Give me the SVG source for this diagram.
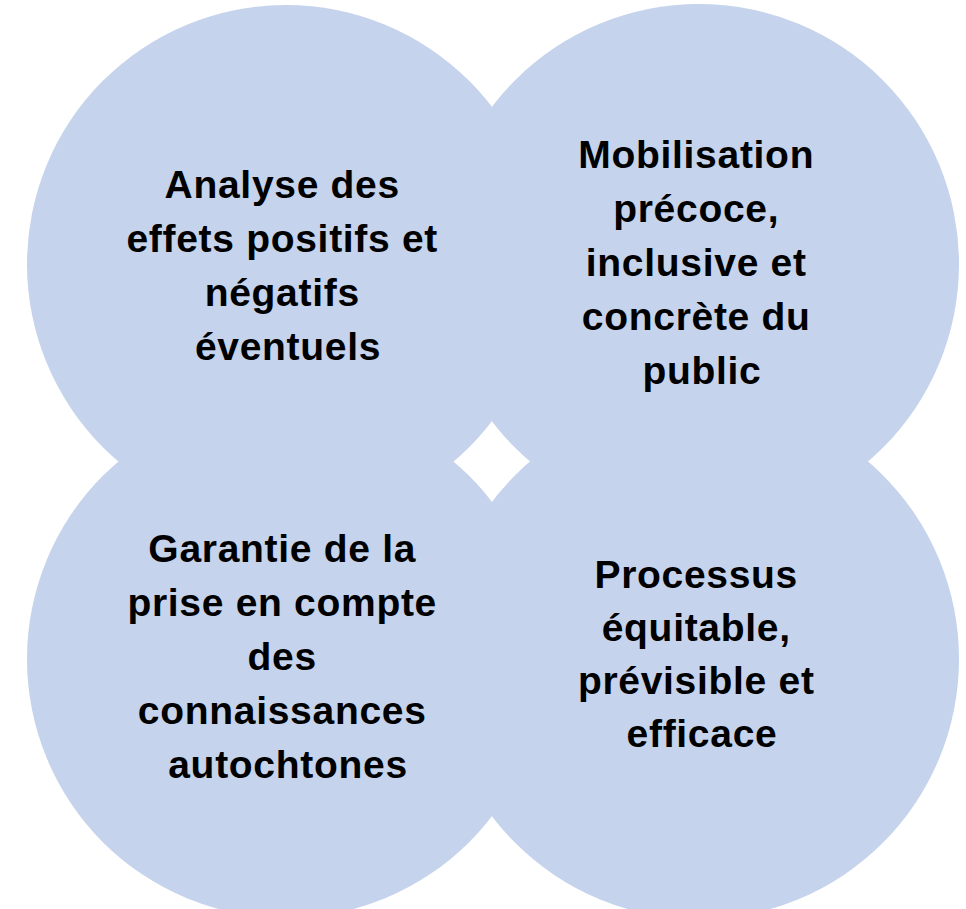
<svg xmlns="http://www.w3.org/2000/svg" width="966" height="909" viewBox="0 0 966 909">
<style>
.bg{fill:#ffffff}
.c{fill:#C5D3EC;stroke:none}
.t{font-family:"Liberation Sans",Arial,sans-serif;font-weight:bold;font-size:39px;fill:#000000;text-anchor:middle;letter-spacing:0.7px}
</style>
<rect class="bg" x="0" y="0" width="966" height="909"/>
<g id="connectors"></g>
<g id="node-mobilisation">
<circle class="c" cx="699" cy="264" r="260"/>
<text class="t">
<tspan x="702" y="168">Mobilisation</tspan>
<tspan x="702" y="222">précoce,</tspan>
<tspan x="702" y="276">inclusive et</tspan>
<tspan x="702" y="330">concrète du</tspan>
<tspan x="702" y="384">public</tspan>
</text>
</g>
<g id="node-processus">
<circle class="c" cx="699" cy="659" r="260"/>
<text class="t">
<tspan x="702" y="588">Processus</tspan>
<tspan x="702" y="641">équitable,</tspan>
<tspan x="702" y="694">prévisible et</tspan>
<tspan x="702" y="747">efficace</tspan>
</text>
</g>
<g id="node-garantie">
<circle class="c" cx="286" cy="659" r="259"/>
<text class="t">
<tspan x="288" y="562">Garantie de la</tspan>
<tspan x="288" y="616">prise en compte</tspan>
<tspan x="288" y="670">des</tspan>
<tspan x="288" y="724">connaissances</tspan>
<tspan x="288" y="778">autochtones</tspan>
</text>
</g>
<g id="node-analyse">
<circle class="c" cx="286" cy="264" r="259"/>
<text class="t">
<tspan x="288" y="198">Analyse des</tspan>
<tspan x="288" y="252">effets positifs et</tspan>
<tspan x="288" y="306">négatifs</tspan>
<tspan x="288" y="360">éventuels</tspan>
</text>
</g>
</svg>
